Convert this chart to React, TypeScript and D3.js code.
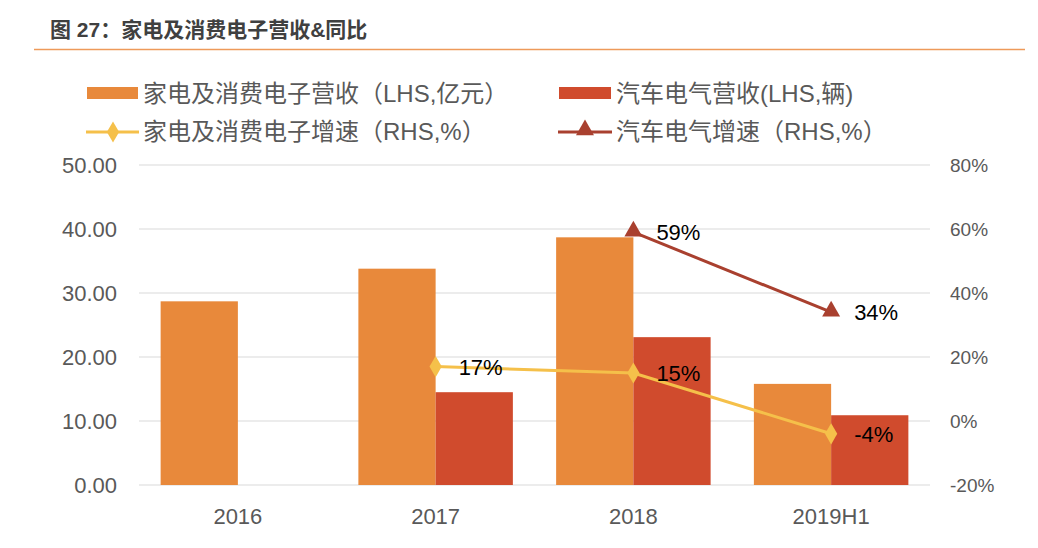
import React from "react";
import * as d3 from "d3";

const categories = ["2016", "2017", "2018", "2019H1"];
const applianceRevenue = [28.7, 33.8, 38.7, 15.8];
const autoRevenue: (number | null)[] = [null, 14.5, 23.1, 10.9];
const applianceGrowth: (number | null)[] = [null, 17, 15, -4];
const autoGrowth: (number | null)[] = [null, null, 59, 34];
const leftTicks = [0, 10, 20, 30, 40, 50];
const rightTicks = [-20, 0, 20, 40, 60, 80];

const W = 1038;
const H = 548;
const plot = { left: 139, right: 930, top: 165, bottom: 485 };

const C_ORANGE = "#E8893B";
const C_RED = "#D04B2D";
const C_YELLOW = "#F5C04A";
const C_DARKRED = "#A9402F";
const TXT = "#595959";
const FONT = "'Liberation Sans', 'Noto Sans CJK SC', Arial, sans-serif";

export default function App() {
  const x = d3.scaleBand<string>().domain(categories).range([plot.left, plot.right]);
  const inner = d3
    .scaleBand<string>()
    .domain(["a", "b"])
    .range([0, x.bandwidth()])
    .paddingInner(0)
    .paddingOuter(0.28);
  const yL = d3.scaleLinear().domain([0, 50]).range([plot.bottom, plot.top]);
  const yR = d3.scaleLinear().domain([-20, 80]).range([plot.bottom, plot.top]);
  const cx = (c: string) => (x(c) ?? 0) + x.bandwidth() / 2;

  const linePts = (vals: (number | null)[]) =>
    categories
      .map((c, i) => ({ c, v: vals[i] }))
      .filter((d) => d.v !== null) as { c: string; v: number }[];

  const line = d3
    .line<{ c: string; v: number }>()
    .x((d) => cx(d.c))
    .y((d) => yR(d.v));

  const yellowPts = linePts(applianceGrowth);
  const redPts = linePts(autoGrowth);
  const diamond = d3.symbol().type(d3.symbolDiamond).size(130)() || "";
  const triangle = d3.symbol().type(d3.symbolTriangle).size(140)() || "";

  return (
    <svg width={W} height={H} style={{ position: "absolute", left: 0, top: 0, background: "#fff" }} fontFamily={FONT}>
      <text x={50} y={37} fontSize={21} fontWeight="bold" fill="#404040">
        图 27：家电及消费电子营收&amp;同比
      </text>
      <line x1={34} x2={1025} y1={49.5} y2={49.5} stroke="#EE9A5A" strokeWidth={1.5} />

      {/* Legend */}
      <g fontSize={24} fill={TXT}>
        <rect x={87} y={87} width={51} height={12} fill={C_ORANGE} />
        <text x={143} y={102}>家电及消费电子营收（LHS,亿元）</text>
        <rect x={559} y={87} width={52} height={12} fill={C_RED} />
        <text x={616} y={102}>汽车电气营收(LHS,辆)</text>
        <line x1={86} x2={139} y1={132} y2={132} stroke={C_YELLOW} strokeWidth={3} />
        <path d={diamond} transform="translate(113,132)" fill={C_YELLOW} />
        <text x={143} y={140}>家电及消费电子增速（RHS,%）</text>
        <line x1={558} x2={612} y1={132} y2={132} stroke={C_DARKRED} strokeWidth={3} />
        <path d={triangle} transform="translate(585,130)" fill={C_DARKRED} />
        <text x={616} y={140}>汽车电气增速（RHS,%）</text>
      </g>

      {/* Gridlines */}
      {leftTicks.map((t) => (
        <line key={t} x1={plot.left} x2={plot.right} y1={yL(t)} y2={yL(t)} stroke="#D9D9D9" strokeWidth={1.2} />
      ))}

      {/* Axis labels */}
      {leftTicks.map((t) => (
        <text key={t} x={117} y={yL(t) + 8} textAnchor="end" fontSize={22} fill={TXT}>
          {t.toFixed(2)}
        </text>
      ))}
      {rightTicks.map((t) => (
        <text key={t} x={950} y={yR(t) + 7} fontSize={19} fill={TXT}>
          {`${t}%`}
        </text>
      ))}
      {categories.map((c) => (
        <text key={c} x={cx(c)} y={524} textAnchor="middle" fontSize={22} fill={TXT}>
          {c}
        </text>
      ))}

      {/* Bars */}
      {categories.map((c, i) => (
        <g key={c}>
          <rect
            x={(x(c) ?? 0) + (inner("a") ?? 0)}
            y={yL(applianceRevenue[i])}
            width={inner.bandwidth()}
            height={yL(0) - yL(applianceRevenue[i])}
            fill={C_ORANGE}
          />
          {autoRevenue[i] !== null && (
            <rect
              x={(x(c) ?? 0) + (inner("b") ?? 0)}
              y={yL(autoRevenue[i] as number)}
              width={inner.bandwidth()}
              height={yL(0) - yL(autoRevenue[i] as number)}
              fill={C_RED}
            />
          )}
        </g>
      ))}

      {/* Lines */}
      <path d={line(yellowPts) || ""} fill="none" stroke={C_YELLOW} strokeWidth={3} />
      <path d={line(redPts) || ""} fill="none" stroke={C_DARKRED} strokeWidth={3} />
      {yellowPts.map((d) => (
        <g key={"y" + d.c}>
          <path d={diamond} transform={`translate(${cx(d.c)},${yR(d.v)})`} fill={C_YELLOW} />
          <text x={cx(d.c) + 23} y={yR(d.v) + 8} fontSize={22} fill="#000">
            {d.v}%
          </text>
        </g>
      ))}
      {redPts.map((d) => (
        <g key={"r" + d.c}>
          <path d={triangle} transform={`translate(${cx(d.c)},${yR(d.v) - 1})`} fill={C_DARKRED} />
          <text x={cx(d.c) + 23} y={yR(d.v) + 8} fontSize={22} fill="#000">
            {d.v}%
          </text>
        </g>
      ))}
    </svg>
  );
}
